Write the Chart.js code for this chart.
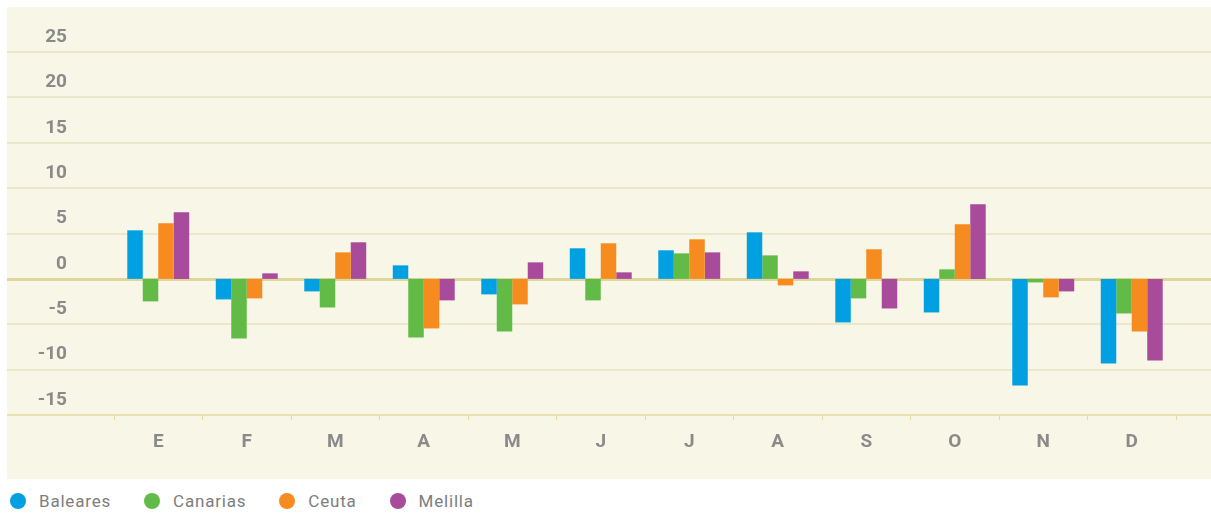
<!DOCTYPE html>
<html>
<head>
<meta charset="utf-8">
<script src="https://cdn.jsdelivr.net/npm/chart.js@4/dist/chart.umd.min.js"></script>
<style>
	body{margin:0;background:#fff;}
	#wrap{position:relative;width:1211px;height:517px;}
	#chart_box{position:absolute;left:0;top:0;width:1211px;height:480px;}
	#leyenda{position:absolute;left:10px;top:491px;display:flex;font-family:Roboto,sans-serif;font-size:17px;color:#7d7d7d;letter-spacing:0.8px;}
	#leyenda .item{display:flex;align-items:center;margin-right:33px;}
	#leyenda .dot{width:16px;height:16px;border-radius:50%;margin-right:13px;}
</style>
</head>
<body>
<div id="wrap">
	<div id="chart_box"><canvas id="grafico_variacion"></canvas></div>
	<div id="leyenda"></div>
</div>
<script>
var meses = ["E","F","M","A","M","J","J","A","S","O","N","D"];
var series_nombres = ["Baleares","Canarias","Ceuta","Melilla"];
var series_colores = ["#00a0e3","#62bb46","#f68b1f","#a84b9b"];

var baleares = [5.35,-2.26,-1.38,1.49,-1.71,3.37,3.15,5.13,-4.80,-3.70,-11.75,-9.33];
var canarias = [-2.48,-6.57,-3.15,-6.46,-5.79,-2.37,2.81,2.59,-2.15,1.05,-0.39,-3.81];
var ceuta = [6.13,-2.15,2.92,-5.46,-2.81,3.92,4.36,-0.72,3.26,6.02,-2.04,-5.79];
var melilla = [7.34,0.61,4.03,-2.37,1.82,0.72,2.92,0.83,-3.26,8.22,-1.38,-9.0];

var y_min = -15, y_max = 25, y_paso = 5;

var series_valores = [baleares, canarias, ceuta, melilla];
var gris = "#8a8a8a";

// fondo crema y lineas horizontales a todo lo ancho
var fondo_plugin = {
	id: "fondo_crema",
	beforeDraw: function(chart){
		var ctx = chart.ctx;
		ctx.save();
		ctx.fillStyle = "#f8f6e6";
		ctx.fillRect(7, 7, chart.width - 7, chart.height - 8);
		ctx.restore();
	},
	beforeDatasetsDraw: function(chart){
		var ctx = chart.ctx;
		var escala = chart.scales.y;
		ctx.save();
		escala.ticks.forEach(function(t){
			var y = Math.round(escala.getPixelForValue(t.value));
			ctx.beginPath();
			if(t.value == 0){
				ctx.strokeStyle = "#ded79b";
				ctx.lineWidth = 3;
				y += 0.5;
			}else if(t.value == y_min){
				ctx.strokeStyle = "#e2db9c";
				ctx.lineWidth = 1.5;
			}else{
				ctx.strokeStyle = "#e7e2bf";
				ctx.lineWidth = 1.5;
			}
			ctx.moveTo(7, y);
			ctx.lineTo(chart.width, y);
			ctx.stroke();
		});
		ctx.restore();
	}
};

var datasets = [];
for(var i = 0; i < series_nombres.length; i++){
	datasets.push({
		label: series_nombres[i],
		data: series_valores[i],
		backgroundColor: series_colores[i],
		borderWidth: 0,
		barPercentage: 1,
		categoryPercentage: 0.7
	});
}

new Chart(document.getElementById("grafico_variacion"), {
	type: "bar",
	data: {labels: meses, datasets: datasets},
	plugins: [fondo_plugin],
	options: {
		responsive: true,
		maintainAspectRatio: false,
		animation: false,
		layout: {padding: {top: 52, right: 35, bottom: 0, left: 0}},
		plugins: {legend: {display: false}, tooltip: {enabled: false}},
		scales: {
			x: {
				grid: {display: true, offset: true, drawOnChartArea: false, drawTicks: true, tickLength: 5, color: "#e2db9c", lineWidth: 1},
				border: {display: false},
				ticks: {color: gris, padding: 11, font: {family: "Roboto", size: 19, weight: "bold"}},
				afterFit: function(scale){ scale.height = 65; }
			},
			y: {
				min: y_min,
				max: y_max,
				grid: {display: false, drawTicks: false},
				border: {display: false},
				ticks: {stepSize: y_paso, color: gris, padding: 47, labelOffset: -15, font: {family: "Roboto", size: 19, weight: "bold"}},
				afterFit: function(scale){
					scale.width = 114;
					scale.paddingTop = 0;
					scale.paddingBottom = 0;
				}
			}
		}
	}
});

// leyenda
var leyenda = document.getElementById("leyenda");
series_nombres.forEach(function(nombre, i){
	var item = document.createElement("div");
	item.className = "item";
	item.innerHTML = '<span class="dot" style="background:' + series_colores[i] + '"></span><span>' + nombre + '</span>';
	leyenda.appendChild(item);
});
</script>
</body>
</html>
